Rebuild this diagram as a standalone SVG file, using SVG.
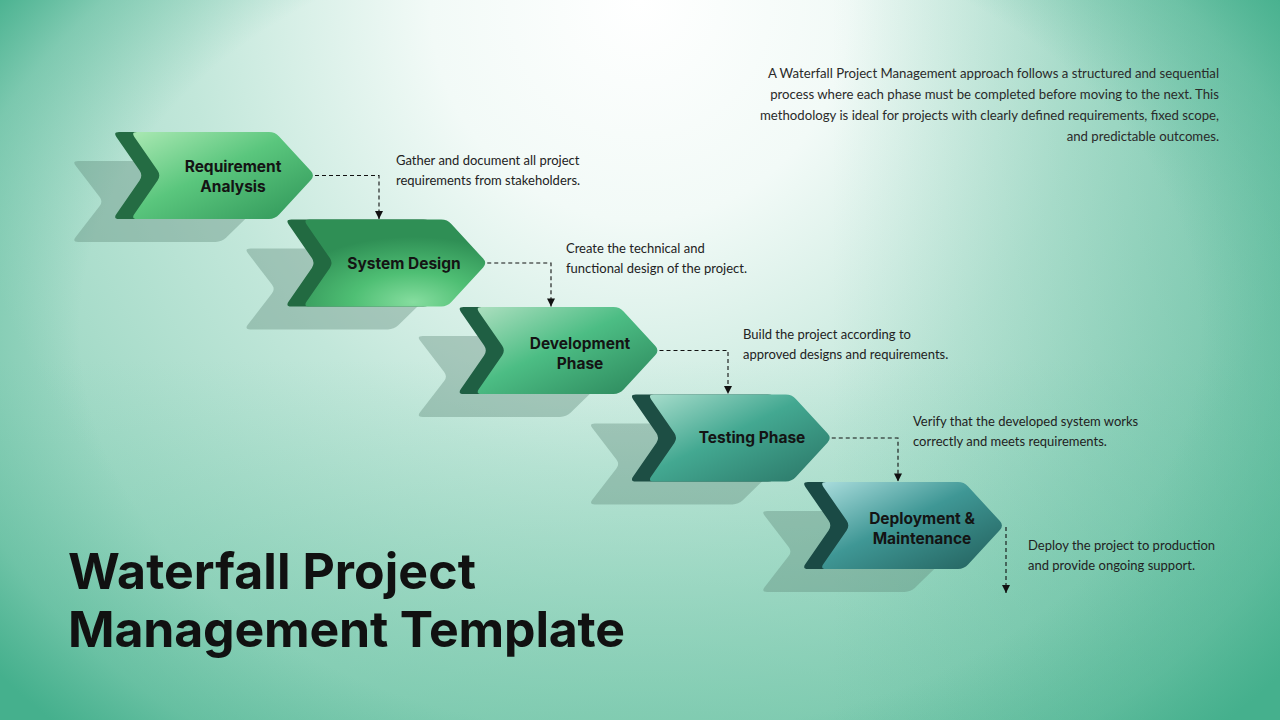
<svg xmlns="http://www.w3.org/2000/svg" width="1280" height="720" viewBox="0 0 1280 720">
  <defs>
    <radialGradient id="bgGlow" gradientUnits="userSpaceOnUse" cx="640" cy="0" r="700" gradientTransform="translate(640 0) scale(1 1.05) translate(-640 0)">
      <stop offset="0" stop-color="#ffffff"/>
      <stop offset="0.3" stop-color="#f2faf7"/>
      <stop offset="0.65" stop-color="#c2e7da"/>
      <stop offset="1" stop-color="#9ed8c4"/>
    </radialGradient>
    <radialGradient id="bgEdge" gradientUnits="userSpaceOnUse" cx="640" cy="330" r="800" gradientTransform="translate(640 330) scale(1 0.72) translate(-640 -330)">
      <stop offset="0" stop-color="#45b08d" stop-opacity="0"/>
      <stop offset="0.7" stop-color="#45b08d" stop-opacity="0"/>
      <stop offset="0.88" stop-color="#45b08d" stop-opacity="0.45"/>
      <stop offset="1" stop-color="#45b08d" stop-opacity="1"/>
    </radialGradient>
    <linearGradient id="bgBottom" x1="0" y1="0" x2="0" y2="1">
      <stop offset="0.5" stop-color="#7fcdb2" stop-opacity="0"/>
      <stop offset="1" stop-color="#6cc3a4" stop-opacity="0.6"/>
    </linearGradient>
    <linearGradient id="bgRight" x1="0" y1="0" x2="1" y2="0">
      <stop offset="0.65" stop-color="#45b08d" stop-opacity="0"/>
      <stop offset="1" stop-color="#45b08d" stop-opacity="0.45"/>
    </linearGradient>

    <linearGradient id="g1" x1="0" y1="0" x2="1" y2="1">
      <stop offset="0" stop-color="#a9e8b2"/>
      <stop offset="0.45" stop-color="#5ac67d"/>
      <stop offset="1" stop-color="#2f9558"/>
    </linearGradient>
    <radialGradient id="g2" cx="0.6" cy="0.95" r="0.75">
      <stop offset="0" stop-color="#86dd9f"/>
      <stop offset="0.45" stop-color="#4fbf74"/>
      <stop offset="1" stop-color="#2f8f55"/>
    </radialGradient>
    <linearGradient id="g3" x1="0" y1="0" x2="1" y2="1">
      <stop offset="0" stop-color="#acdfbf"/>
      <stop offset="0.45" stop-color="#4cbd84"/>
      <stop offset="1" stop-color="#2b855a"/>
    </linearGradient>
    <linearGradient id="g4" x1="0" y1="0" x2="1" y2="1">
      <stop offset="0" stop-color="#a6dccb"/>
      <stop offset="0.45" stop-color="#43a891"/>
      <stop offset="1" stop-color="#2a7566"/>
    </linearGradient>
    <linearGradient id="g5" x1="0" y1="0" x2="1" y2="1">
      <stop offset="0" stop-color="#a9dcdc"/>
      <stop offset="0.45" stop-color="#3f9795"/>
      <stop offset="1" stop-color="#225f5b"/>
    </linearGradient>

    <path id="chev" d="M6 0 L138 0 Q144 0 148.1 4.4 L179.9 39.1 Q184 43.5 179.9 47.9 L148.1 82.6 Q144 87 138 87 L6 87 Q0 87 3.4 82.1 L26.6 48.4 Q30 43.5 26.6 38.6 L3.4 4.9 Q0 0 6 0 Z"/>

    <marker id="arr" markerUnits="userSpaceOnUse" markerWidth="10" markerHeight="10" viewBox="0 0 10 10" refX="9" refY="5" orient="auto">
      <path d="M1 1 L9 5 L1 9 Z" fill="#111"/>
    </marker>
  </defs>

  <style>
    .shadow { fill: #5f8a7a; fill-opacity: 0.38; }
    .label { font-family: Inter, "Liberation Sans", sans-serif; font-weight: 700; font-size: 15.5px; fill: #141414; text-anchor: middle; }
    .desc { font-family: Lato, "Liberation Sans", sans-serif; font-size: 13px; fill: #222; }
    .intro { font-family: Lato, "Liberation Sans", sans-serif; font-size: 13.2px; fill: #2a2a2a; text-anchor: end; }
    .title { font-family: Inter, "Liberation Sans", sans-serif; font-weight: 700; font-size: 50px; fill: #111; }
    .conn { fill: none; stroke: #111; stroke-width: 1.1; stroke-dasharray: 4 3; }
  </style>

  <!-- background -->
  <rect x="0" y="0" width="1280" height="720" fill="url(#bgGlow)"/>
  <rect x="0" y="0" width="1280" height="720" fill="url(#bgBottom)"/>
  <rect x="0" y="0" width="1280" height="720" fill="url(#bgRight)"/>
  <rect x="0" y="0" width="1280" height="720" fill="url(#bgEdge)"/>

  <!-- step 1 -->
  <g id="step1">
    <use href="#chev" class="shadow" transform="translate(72 161) scale(1.04 0.93)"/>
    <use href="#chev" fill="#246c43" transform="translate(113 132)"/>
    <use href="#chev" fill="url(#g1)" transform="translate(131 132)"/>
    <text class="label" x="233" y="172">Requirement</text>
    <text class="label" x="233" y="192">Analysis</text>
  </g>

  <!-- step 2 -->
  <g id="step2">
    <use href="#chev" class="shadow" transform="translate(244.25 248.5) scale(1.04 0.93)"/>
    <use href="#chev" fill="#226a41" transform="translate(285.25 219.5)"/>
    <use href="#chev" fill="url(#g2)" transform="translate(303.25 219.5)"/>
    <text class="label" x="404" y="269">System Design</text>
  </g>

  <!-- step 3 -->
  <g id="step3">
    <use href="#chev" class="shadow" transform="translate(416.5 336) scale(1.04 0.93)"/>
    <use href="#chev" fill="#1f5f43" transform="translate(457.5 307)"/>
    <use href="#chev" fill="url(#g3)" transform="translate(475.5 307)"/>
    <text class="label" x="580" y="349">Development</text>
    <text class="label" x="580" y="369">Phase</text>
  </g>

  <!-- step 4 -->
  <g id="step4">
    <use href="#chev" class="shadow" transform="translate(588.75 423.5) scale(1.04 0.93)"/>
    <use href="#chev" fill="#1d4e44" transform="translate(629.75 394.5)"/>
    <use href="#chev" fill="url(#g4)" transform="translate(647.75 394.5)"/>
    <text class="label" x="752" y="443">Testing Phase</text>
  </g>

  <!-- step 5 -->
  <g id="step5">
    <use href="#chev" class="shadow" transform="translate(761 511) scale(1.04 0.93)"/>
    <use href="#chev" fill="#1a4a45" transform="translate(802 482)"/>
    <use href="#chev" fill="url(#g5)" transform="translate(820 482)"/>
    <text class="label" x="922" y="524">Deployment &amp;</text>
    <text class="label" x="922" y="544">Maintenance</text>
  </g>

  <!-- connectors -->
  <g id="connectors">
    <path class="conn" d="M315 175.5 H379 V219" marker-end="url(#arr)"/>
    <path class="conn" d="M487.25 263 H551 V306.5" marker-end="url(#arr)"/>
    <path class="conn" d="M659.5 350.5 H728 V394" marker-end="url(#arr)"/>
    <path class="conn" d="M831.75 438 H898 V481.5" marker-end="url(#arr)"/>
    <path class="conn" d="M1006 527 V593" marker-end="url(#arr)"/>
  </g>

  <!-- descriptions -->
  <g id="descriptions">
    <text class="desc" x="396" y="165">Gather and document all project</text>
    <text class="desc" x="396" y="185">requirements from stakeholders.</text>
    <text class="desc" x="566" y="253">Create the technical and</text>
    <text class="desc" x="566" y="273">functional design of the project.</text>
    <text class="desc" x="743" y="339">Build the project according to</text>
    <text class="desc" x="743" y="359">approved designs and requirements.</text>
    <text class="desc" x="913" y="426">Verify that the developed system works</text>
    <text class="desc" x="913" y="446">correctly and meets requirements.</text>
    <text class="desc" x="1028" y="550">Deploy the project to production</text>
    <text class="desc" x="1028" y="570">and provide ongoing support.</text>
  </g>

  <!-- intro paragraph -->
  <g id="intro">
    <text class="intro" x="1219" y="78">A Waterfall Project Management approach follows a structured and sequential</text>
    <text class="intro" x="1219" y="99">process where each phase must be completed before moving to the next. This</text>
    <text class="intro" x="1219" y="120">methodology is ideal for projects with clearly defined requirements, fixed scope,</text>
    <text class="intro" x="1219" y="141">and predictable outcomes.</text>
  </g>

  <!-- title -->
  <g id="title">
    <text class="title" x="68" y="589" textLength="408">Waterfall Project</text>
    <text class="title" x="68" y="647" textLength="557">Management Template</text>
  </g>
</svg>
